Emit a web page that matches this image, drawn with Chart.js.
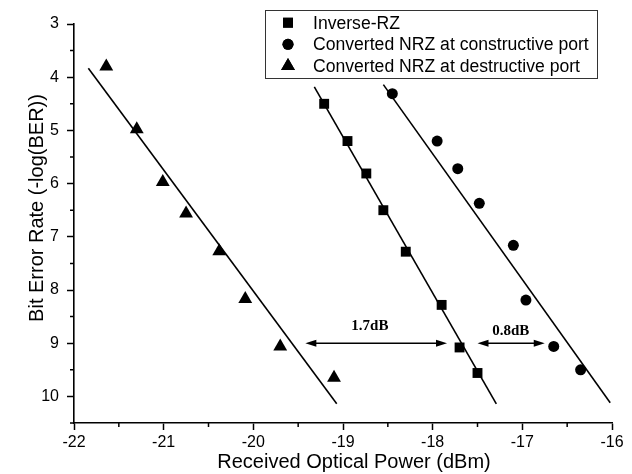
<!DOCTYPE html>
<html>
<head>
<meta charset="utf-8">
<script src="https://cdn.jsdelivr.net/npm/chart.js@4.4.0/dist/chart.umd.min.js"></script>
<style>
    html, body { margin: 0; padding: 0; background: #fff; }
    #wrap { width: 632px; height: 474px; }
</style>
</head>
<body>
<div id="wrap"><canvas id="ber-chart" width="632" height="474"></canvas></div>
<script>
// measured points (received power dBm, -log(BER))
const inverseRZ = [
    [-19.21, 4.5], [-18.95, 5.2], [-18.74, 5.81], [-18.55, 6.5],
    [-18.3, 7.28], [-17.9, 8.28], [-17.7, 9.08], [-17.5, 9.56]
];
const constructiveNRZ = [
    [-18.45, 4.31], [-17.95, 5.2], [-17.72, 5.72], [-17.48, 6.37],
    [-17.1, 7.16], [-16.96, 8.19], [-16.65, 9.06], [-16.35, 9.5]
];
const destructiveNRZ = [
    [-21.64, 3.8], [-21.3, 4.98], [-21.01, 5.97], [-20.75, 6.56],
    [-20.38, 7.27], [-20.09, 8.17], [-19.7, 9.06], [-19.1, 9.65]
];

// linear fit lines (start, end)
const fitInverseRZ = [[-19.32, 4.18], [-17.29, 10.14]];
const fitConstructive = [[-18.55, 4.14], [-16.02, 10.12]];
const fitDestructive = [[-21.84, 3.83], [-19.07, 10.14]];

const seriesLabels = [
    "Inverse-RZ",
    "Converted NRZ at constructive port",
    "Converted NRZ at destructive port"
];

// power penalty arrows
const arrowLabels = ["1.7dB", "0.8dB"];
const arrowFrom = [-19.42, -17.5];
const arrowTo = [-17.84, -16.75];
const arrowLevel = [9.0, 9.0];
const arrowLabelPos = [[-18.7, 8.68], [-17.13, 8.77]];

const xTitle = "Received Optical Power (dBm)";
const yTitle = "Bit Error Rate (-log(BER))";

const toXY = pts => pts.map(p => ({ x: p[0], y: p[1] }));
const SANS = "'Liberation Sans', Arial, sans-serif";

const pointSet = (label, pts, style, radius) => ({
    label: label,
    data: toXY(pts),
    pointStyle: style,
    pointRadius: radius,
    pointHoverRadius: radius,
    backgroundColor: "#000",
    borderColor: "#000",
    borderWidth: 0,
    showLine: false
});

const fitSet = pts => ({
    data: toXY(pts),
    showLine: true,
    pointRadius: 0,
    borderColor: "#000",
    borderWidth: 1.6,
    fill: false
});

const extras = {
    id: "extras",
    afterDraw(chart) {
        const ctx = chart.ctx;
        const xs = chart.scales.x, ys = chart.scales.y;
        const area = chart.chartArea;
        ctx.save();
        ctx.strokeStyle = "#000";
        ctx.fillStyle = "#000";
        ctx.lineWidth = 1.5;

        // minor ticks
        ctx.beginPath();
        for (let v = -21.5; v < -16; v += 1) {
            const px = xs.getPixelForValue(v);
            ctx.moveTo(px, area.bottom);
            ctx.lineTo(px, area.bottom + 4);
        }
        for (let v = 3.5; v <= 10.5; v += 1) {
            const py = ys.getPixelForValue(v);
            ctx.moveTo(area.left, py);
            ctx.lineTo(area.left - 4, py);
        }
        ctx.stroke();

        // arrows
        arrowLabels.forEach((txt, i) => {
            const x1 = xs.getPixelForValue(arrowFrom[i]);
            const x2 = xs.getPixelForValue(arrowTo[i]);
            const y = ys.getPixelForValue(arrowLevel[i]);
            ctx.lineWidth = 1.5;
            ctx.beginPath();
            ctx.moveTo(x1 + 6, y);
            ctx.lineTo(x2 - 6, y);
            ctx.stroke();
            ctx.beginPath();
            ctx.moveTo(x1, y);
            ctx.lineTo(x1 + 11, y - 3.5);
            ctx.lineTo(x1 + 11, y + 3.5);
            ctx.closePath();
            ctx.moveTo(x2, y);
            ctx.lineTo(x2 - 11, y - 3.5);
            ctx.lineTo(x2 - 11, y + 3.5);
            ctx.closePath();
            ctx.fill();
            ctx.font = "bold 15px 'Liberation Serif', 'Times New Roman', serif";
            ctx.textAlign = "center";
            ctx.textBaseline = "middle";
            ctx.fillText(txt, xs.getPixelForValue(arrowLabelPos[i][0]), ys.getPixelForValue(arrowLabelPos[i][1]));
        });

        // legend
        ctx.lineWidth = 1;
        ctx.strokeStyle = "#333";
        ctx.strokeRect(265.5, 10.5, 332, 68);
        ctx.font = "17.6px " + SANS;
        ctx.textAlign = "left";
        ctx.textBaseline = "middle";
        const rows = [22.7, 44.3, 66];
        seriesLabels.forEach((lbl, i) => {
            const ds = chart.data.datasets[i];
            Chart.helpers.drawPoint(ctx, { pointStyle: ds.pointStyle, radius: ds.pointRadius, borderWidth: 0 }, 288, rows[i]);
            ctx.fillStyle = "#000";
            ctx.fill();
            ctx.fillText(lbl, 313, rows[i] + 1);
        });

        // axis titles
        ctx.font = "20px " + SANS;
        ctx.textAlign = "center";
        ctx.textBaseline = "middle";
        ctx.fillText(xTitle, 354, 462);
        ctx.translate(37, 208);
        ctx.rotate(-Math.PI / 2);
        ctx.fillText(yTitle, 0, 0);
        ctx.restore();
    }
};

const intLabel = v => Number.isInteger(v) ? String(v) : "";
const majorColor = c => (c.tick && Number.isInteger(c.tick.value)) ? "#000" : "rgba(0,0,0,0)";

new Chart(document.getElementById("ber-chart").getContext("2d"), {
    type: "scatter",
    data: {
        datasets: [
            pointSet(seriesLabels[0], inverseRZ, "rect", 7),
            pointSet(seriesLabels[1], constructiveNRZ, "circle", 5.5),
            pointSet(seriesLabels[2], destructiveNRZ, "triangle", 8),
            fitSet(fitInverseRZ),
            fitSet(fitConstructive),
            fitSet(fitDestructive)
        ]
    },
    options: {
        responsive: false,
        animation: false,
        layout: { padding: { left: 0, right: 20, top: 24, bottom: 0 } },
        plugins: {
            legend: { display: false },
            tooltip: { enabled: false }
        },
        scales: {
            x: {
                type: "linear",
                min: -22,
                max: -16,
                afterFit: s => { s.height = 51; },
                ticks: { stepSize: 0.5, callback: intLabel, color: "#000", font: { family: SANS, size: 16 }, padding: 3, maxRotation: 0, autoSkip: false },
                grid: { drawOnChartArea: false, tickLength: 7, tickWidth: 1.5, tickColor: majorColor },
                border: { display: true, color: "#000", width: 1.6 }
            },
            y: {
                type: "linear",
                min: 3,
                max: 10.5,
                reverse: true,
                afterFit: s => { s.width = 74; },
                ticks: { stepSize: 0.5, callback: intLabel, color: "#000", font: { family: SANS, size: 16 }, padding: 8, autoSkip: false },
                grid: { drawOnChartArea: false, tickLength: 7, tickWidth: 1.5, tickColor: majorColor },
                border: { display: true, color: "#000", width: 1.6 }
            }
        }
    },
    plugins: [extras]
});
</script>
</body>
</html>
